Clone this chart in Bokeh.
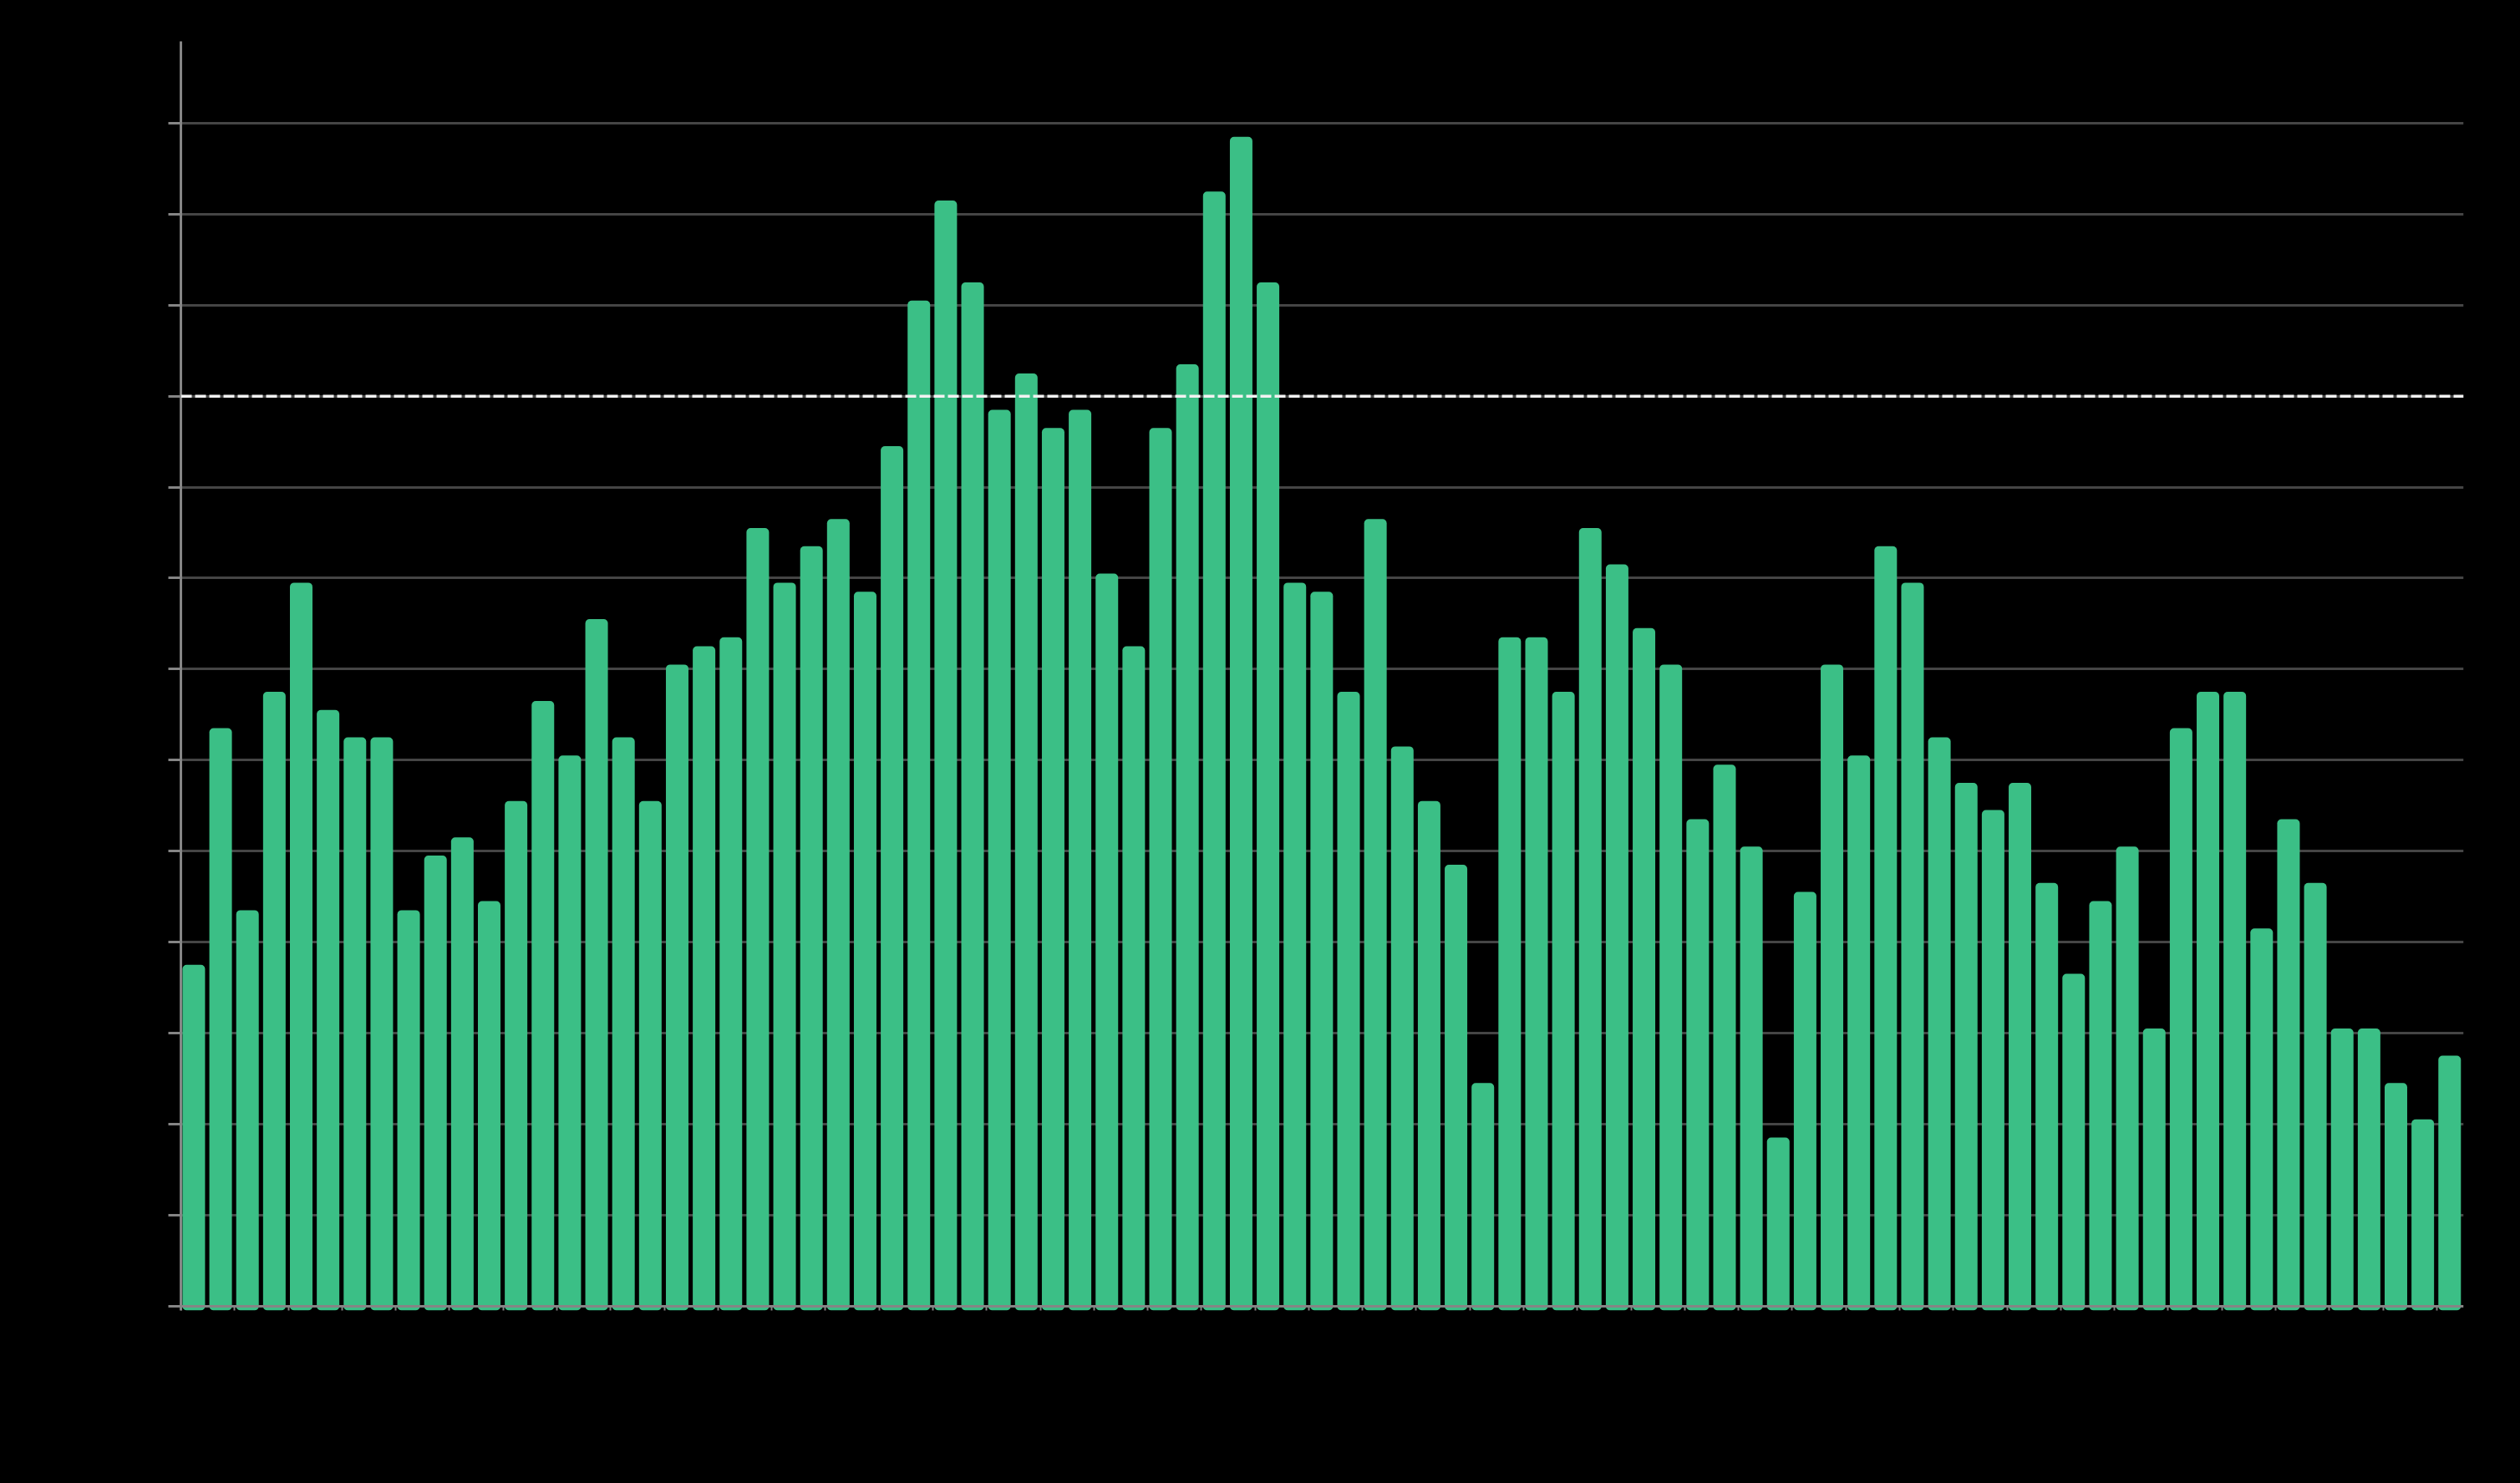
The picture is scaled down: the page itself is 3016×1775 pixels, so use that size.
from bokeh.plotting import figure
from bokeh.models import Range1d, Span, FixedTicker, CustomJSTickFormatter
from bokeh.embed import file_html
from bokeh.resources import INLINE

# ---- data ----
values = [38, 64, 44, 68, 80, 66, 63, 63, 44, 50, 52, 45, 56, 67, 61, 76, 63, 56, 71, 73, 74, 86,
          80, 84, 87, 79, 95, 111, 122, 113, 99, 103, 97, 99, 81, 73, 97, 104, 123, 129, 113, 80, 79,
          68, 87, 62, 56, 49, 25, 74, 74, 68, 86, 82, 75, 71, 54, 60, 51, 19, 46, 71, 61, 84, 80,
          63, 58, 55, 58, 47, 37, 45, 51, 31, 64, 68, 68, 42, 54, 47, 31, 31, 25, 21, 28]
positions = [i + 0.48 for i in range(len(values))]
y_ticks = list(range(0, 140, 10))
x_ticks = list(range(0, 85, 2))
reference_level = 100

BAR_OFFSET = 0.5
tops = [v - BAR_OFFSET for v in values]

p = figure(width=3000, height=1750, output_backend="svg", toolbar_location=None,
           x_range=Range1d(0, len(values)), y_range=Range1d(-BAR_OFFSET, 139),
           background_fill_color="black", border_fill_color="black",
           min_border_left=216, min_border_top=49, min_border_right=52, min_border_bottom=182)
p.frame_width = 2732
p.frame_height = 1519
p.outline_line_color = None
p.styles = {"background-color": "#000000"}

p.ygrid.ticker = FixedTicker(ticks=y_ticks[1:])
p.ygrid.grid_line_color = "#454545"
p.ygrid.grid_line_width = 3
p.xgrid.grid_line_color = None

p.vbar(x=positions, top=tops, bottom=-BAR_OFFSET, width=0.84,
       fill_color="#3bbf86", line_color=None, border_radius=5)

p.add_layout(Span(location=reference_level, dimension="width", line_color="#f2f2f2",
                  line_width=3.5, line_dash="13 4"))

empty = CustomJSTickFormatter(code="return ''")

yax = p.yaxis[0]
yax.ticker = FixedTicker(ticks=y_ticks)
yax.formatter = empty
yax.axis_line_color = "#858585"
yax.axis_line_width = 3
yax.major_tick_line_color = "#858585"
yax.major_tick_line_width = 3
yax.major_tick_out = 15
yax.major_tick_in = 0
yax.minor_tick_line_color = None

xax = p.xaxis[0]
xax.ticker = FixedTicker(ticks=x_ticks)
xax.formatter = empty
xax.fixed_location = 0
xax.axis_line_color = "#858585"
xax.axis_line_width = 3
xax.major_tick_line_color = "#858585"
xax.major_tick_line_width = 2
xax.major_tick_out = 16
xax.major_tick_in = 0
xax.minor_tick_line_color = None

html = file_html(p, INLINE)
html = html.replace("<body>", '<body style="background-color:#000000;">', 1)
html = html.replace("</head>", "<style>html, body { background-color: #000000; }</style></head>", 1)
open("out.html", "w").write(html)
